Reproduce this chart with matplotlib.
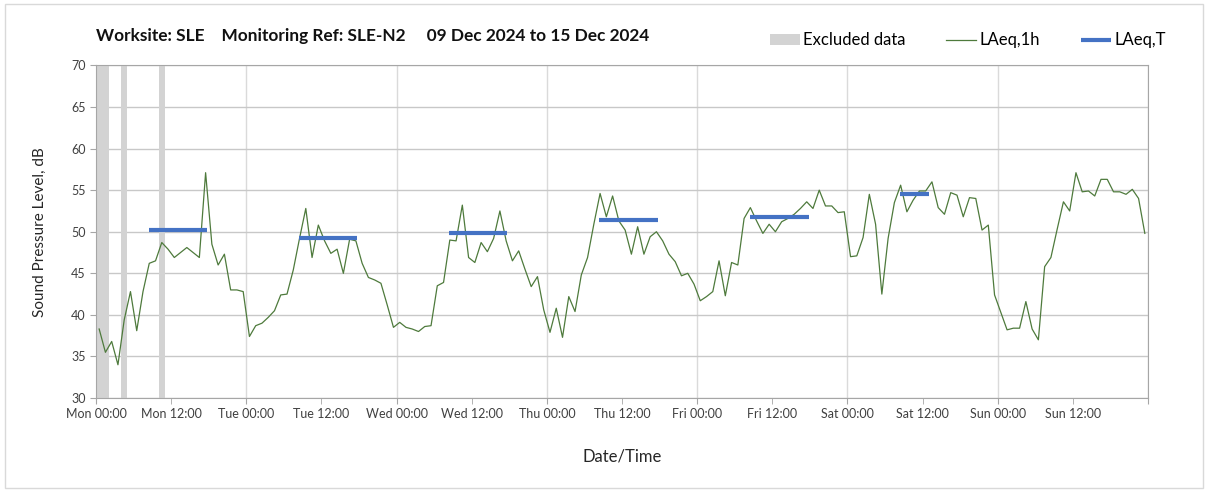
import numpy as np
import matplotlib
matplotlib.use("Agg")
import matplotlib.pyplot as plt
from matplotlib.patches import Rectangle

plt.rcParams['font.family'] = ['Lato', 'DejaVu Sans']

# hourly LAeq,1h values, Mon 09 Dec 00:00 -> Sun 15 Dec 23:00
laeq_1h = [
    38.3, 35.5, 36.8, 34.0, 39.4, 42.8, 38.1, 42.8, 46.2, 46.5, 48.7, 47.9,
    46.9, 47.5, 48.1, 47.5, 46.9, 57.1, 48.5, 46.0, 47.3, 43.0, 43.0, 42.8,
    37.4, 38.7, 39.0, 39.7, 40.5, 42.4, 42.5, 45.4, 49.2, 52.8, 46.9, 50.8,
    48.9, 47.4, 47.9, 45.0, 49.1, 48.9, 46.2, 44.5, 44.2, 43.8, 41.2, 38.5,
    39.1, 38.5, 38.3, 38.0, 38.6, 38.7, 43.5, 43.9, 49.0, 48.9, 53.2, 46.9,
    46.3, 48.7, 47.6, 49.2, 52.5, 48.9, 46.5, 47.7, 45.5, 43.4, 44.6, 40.6,
    37.9, 40.8, 37.3, 42.2, 40.4, 44.8, 46.9, 50.9, 54.6, 51.8, 54.3, 51.3,
    50.2, 47.3, 50.6, 47.3, 49.4, 50.0, 48.9, 47.3, 46.4, 44.7, 45.0, 43.7,
    41.7, 42.2, 42.8, 46.5, 42.3, 46.3, 46.0, 51.6, 52.9, 51.3, 49.8, 50.9,
    50.0, 51.2, 51.6, 52.1, 52.8, 53.6, 52.8, 55.0, 53.1, 53.1, 52.3, 52.4,
    47.0, 47.1, 49.3, 54.5, 50.9, 42.5, 49.2, 53.5, 55.6, 52.4, 53.8, 54.9,
    54.9, 56.0, 52.9, 52.1, 54.7, 54.4, 51.8, 54.1, 54.0, 50.2, 50.8, 42.4,
    40.3, 38.2, 38.4, 38.4, 41.6, 38.3, 37.0, 45.8, 46.9, 50.3, 53.6, 52.5,
    57.1, 54.8, 54.9, 54.3, 56.3, 56.3, 54.8, 54.8, 54.5, 55.1, 54.0, 49.8,
]

# LAeq,T per working day (start hour, end hour, level)
laeq_t_start = [8.4, 32.4, 56.4, 80.4, 104.4, 128.4]
laeq_t_end = [17.7, 41.7, 65.7, 89.8, 113.8, 133.0]
laeq_t = [50.2, 49.25, 49.8, 51.4, 51.75, 54.5]

# excluded periods (hours from Mon 00:00)
excl_start = [0, 4, 10]
excl_end = [2, 5, 11]

days = ["Mon", "Tue", "Wed", "Thu", "Fri", "Sat", "Sun"]

hours = np.arange(len(laeq_1h)) + 0.5

fig = plt.figure(figsize=(12.08, 4.92), dpi=100)
fig.patches.append(Rectangle((0.004, 0.008), 0.992, 0.984, transform=fig.transFigure,
                             fill=False, edgecolor="#d9d9d9", lw=1))
ax = fig.add_axes([0.0795, 0.191, 0.8708, 0.676])

for s, e in zip(excl_start, excl_end):
    ax.axvspan(s, e, color="#d3d3d3", lw=0, zorder=1, label="Excluded data" if s == excl_start[0] else None)

ax.plot(hours, laeq_1h, color="#4e7a3c", lw=0.9, zorder=3, label="LAeq,1h")
for i, (s, e, v) in enumerate(zip(laeq_t_start, laeq_t_end, laeq_t)):
    ax.plot([s, e], [v, v], color="#4472c4", lw=3, solid_capstyle="butt", zorder=4,
            label="LAeq,T" if i == 0 else None)

ax.set_xlim(0, 168)
ax.set_ylim(30, 70)
ax.set_yticks(np.arange(30, 71, 5))
ax.set_xticks(np.arange(0, 169, 24))
ax.set_xticklabels([d + " 00:00" for d in days] + [""])
ax.set_xticks(np.arange(12, 168, 24), minor=True)
ax.set_xticklabels([d + " 12:00" for d in days], minor=True)

ax.grid(axis="y", color="#c8c8c8", lw=1)
ax.grid(axis="x", which="major", color="#dadada", lw=1)
ax.set_axisbelow(True)
for sp in ax.spines.values():
    sp.set_color("#a6a6a6")
ax.tick_params(axis="both", which="both", colors="#a6a6a6", labelcolor="#404040",
               labelsize=9, length=4)

ax.set_ylabel("Sound Pressure Level, dB", fontsize=11, color="#262626", labelpad=17)
ax.set_xlabel("Date/Time", fontsize=12, color="#262626", labelpad=20)

fig.text(0.0795, 0.926, "Worksite: SLE    Monitoring Ref: SLE-N2     09 Dec 2024 to 15 Dec 2024",
         fontsize=12.4, fontweight="bold", color="#111111", va="center")

ax.legend(loc="center right", bbox_to_anchor=(0.972, 0.918), bbox_transform=fig.transFigure,
          ncol=3, frameon=False, fontsize=12, handlelength=1.8, handleheight=0.7,
          columnspacing=2.45, handletextpad=0.2, borderpad=0)

fig.savefig("out.png", dpi=100)
